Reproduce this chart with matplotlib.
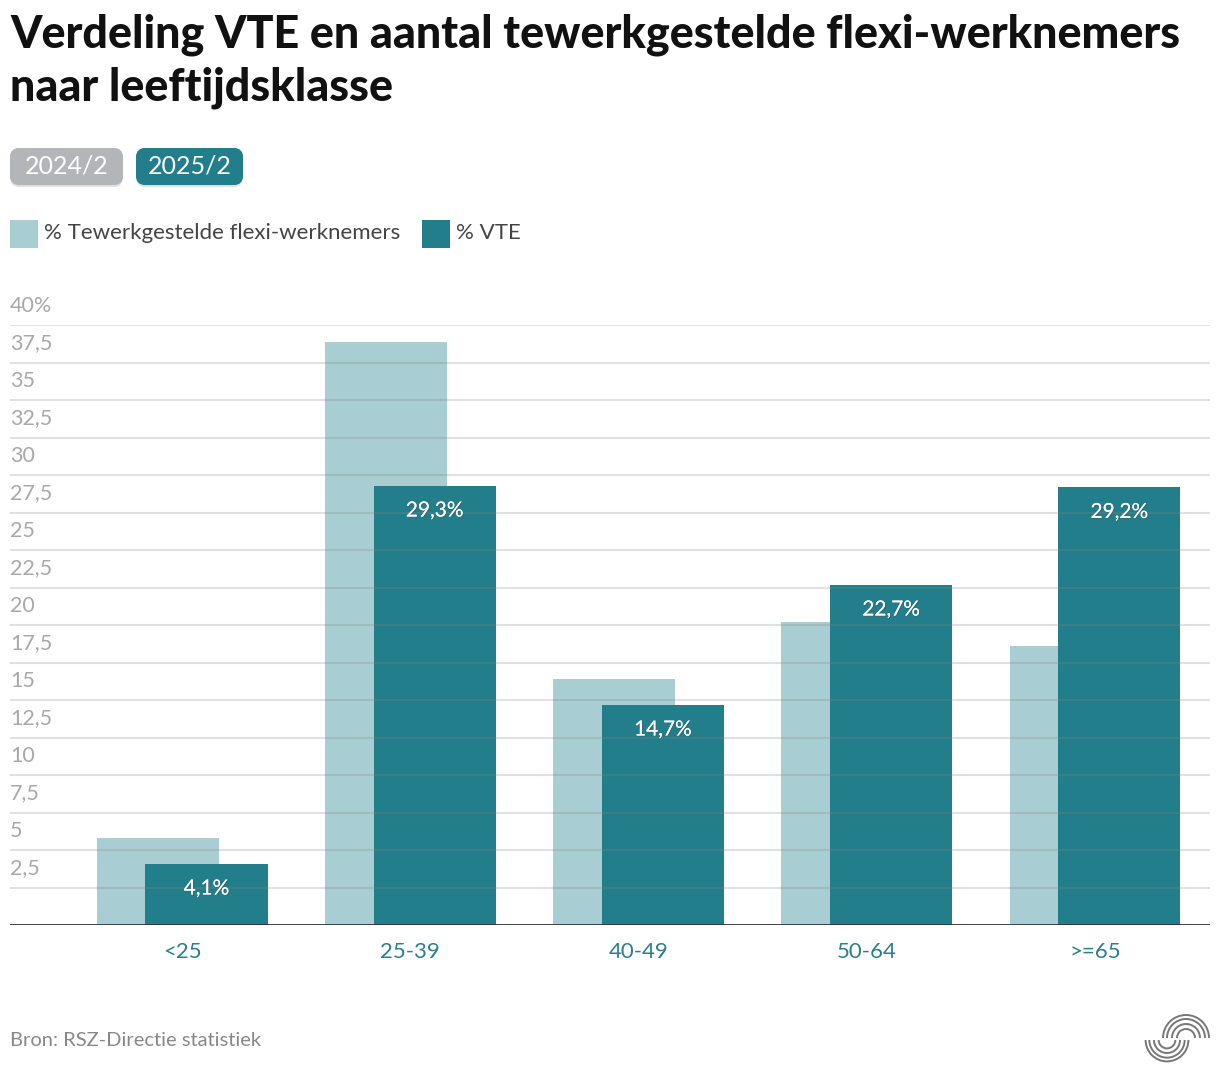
import matplotlib
matplotlib.use("Agg")
import matplotlib.pyplot as plt
import matplotlib.patheffects as pe
from matplotlib.patches import FancyBboxPatch, Rectangle, Arc
from matplotlib.transforms import offset_copy
import numpy as np

categories = ["<25", "25-39", "40-49", "50-64", ">=65"]
flexi_pct = [5.8, 38.9, 16.4, 20.2, 18.6]
vte_pct = [4.1, 29.3, 14.7, 22.7, 29.2]
vte_labels = ["4,1%", "29,3%", "14,7%", "22,7%", "29,2%"]
yticks = [2.5, 5, 7.5, 10, 12.5, 15, 17.5, 20, 22.5, 25, 27.5, 30, 32.5, 35, 37.5, 40]
ytick_labels = ["2,5", "5", "7,5", "10", "12,5", "15", "17,5", "20", "22,5", "25",
                "27,5", "30", "32,5", "35", "37,5", "40%"]

LIGHT = "#a8cdd2"
DARK = "#227e8a"
FONT = ["Lato", "DejaVu Sans"]
plt.rcParams["font.family"] = FONT

W, H = 1220, 1080
fig = plt.figure(figsize=(W / 100, H / 100), dpi=100)

def fx(px):
    return px / W

def fy(py):
    return 1 - py / H

ax = fig.add_axes([fx(10), fy(925), fx(1210) - fx(10), fy(325) - fy(925)])
x = np.arange(len(categories))
bw = 0.535
off = 0.107
ax.bar(x - off, flexi_pct, width=bw, color=LIGHT, zorder=2)
ax.bar(x + off, vte_pct, width=bw, color=DARK, zorder=3)
ax.set_xlim(-0.754, 4.504)
ax.set_ylim(0, 40)
ytrans = offset_copy(ax.get_yaxis_transform(), fig=fig, x=0, y=19, units="dots")
for t, lab in zip(yticks, ytick_labels):
    ax.axhline(t, color="#888888", lw=1.5, alpha=0.25, zorder=4)
    ax.text(0, t, lab, transform=ytrans,
            ha="left", va="center", fontsize=15.5, color="#a8a8a8")
ax.axhline(0, color="#333333", lw=2, zorder=5)
for s in ax.spines.values():
    s.set_visible(False)
ax.set_yticks([])
ax.set_xticks(x)
ax.set_xticklabels(categories, fontsize=16, color="#2a7f8a")
ax.tick_params(axis="x", length=0, pad=12)

for i, (v, lab) in enumerate(zip(vte_pct, vte_labels)):
    ax.annotate(lab, (x[i] + off, v), xytext=(0, -18), textcoords="offset points",
                ha="center", va="center", fontsize=15, color="white", zorder=6,
                path_effects=[pe.withSimplePatchShadow(offset=(0.8, -0.8), alpha=0.35),
                              pe.Normal()])

# Title
fig.text(fx(10), fy(35), "Verdeling VTE en aantal tewerkgestelde flexi-werknemers",
         fontsize=32.3, fontweight="black", color="#111111", ha="left", va="center")
fig.text(fx(10), fy(88), "naar leeftijdsklasse",
         fontsize=32.3, fontweight="black", color="#111111", ha="left", va="center")

# Tabs
def tab(x0, x1, color, label):
    y0, y1 = 148, 185
    p = FancyBboxPatch((fx(x0), fy(y1)), fx(x1) - fx(x0), fy(y0) - fy(y1),
                       boxstyle="round,pad=0,rounding_size=0.008",
                       transform=fig.transFigure, facecolor=color, edgecolor="none",
                       mutation_aspect=W / H,
                       path_effects=[pe.withSimplePatchShadow(offset=(0, -1.5), alpha=0.12,
                                                              shadow_rgbFace="#000000"),
                                     pe.Normal()])
    fig.patches.append(p)
    fig.text(fx((x0 + x1) / 2), fy(166), label, fontsize=18, color="white",
             ha="center", va="center")

tab(10, 123, "#b4b5b8", "2024/2")
tab(136, 243, DARK, "2025/2")

# Legend
fig.patches.append(Rectangle((fx(10), fy(248)), fx(28), fy(220) - fy(248),
                             transform=fig.transFigure, facecolor=LIGHT, edgecolor="none"))
fig.text(fx(44), fy(233), "% Tewerkgestelde flexi-werknemers", fontsize=16,
         color="#444444", ha="left", va="center")
fig.patches.append(Rectangle((fx(422), fy(248)), fx(28), fy(220) - fy(248),
                             transform=fig.transFigure, facecolor=DARK, edgecolor="none"))
fig.text(fx(456), fy(233), "% VTE", fontsize=16,
         color="#444444", ha="left", va="center")

# Source
fig.text(fx(10), fy(1041), "Bron: RSZ-Directie statistiek", fontsize=14.5,
         color="#888888", ha="left", va="center")

# Logo
lax = fig.add_axes([fx(1140), fy(1070), fx(80), fy(1005) - fy(1070)])
lax.set_xlim(1140, 1220)
lax.set_ylim(1070, 1005)
lax.set_aspect("equal")
lax.axis("off")
for r in [9, 14, 19, 23]:
    lax.add_patch(Arc((1186, 1038), 2 * r, 2 * r, theta1=180, theta2=360,
                      color="#777777", lw=1.4))
    lax.add_patch(Arc((1167, 1040), 2 * r * 0.93, 2 * r * 0.93, theta1=0, theta2=180,
                      color="#777777", lw=1.4))

fig.savefig("out.png", dpi=100)
